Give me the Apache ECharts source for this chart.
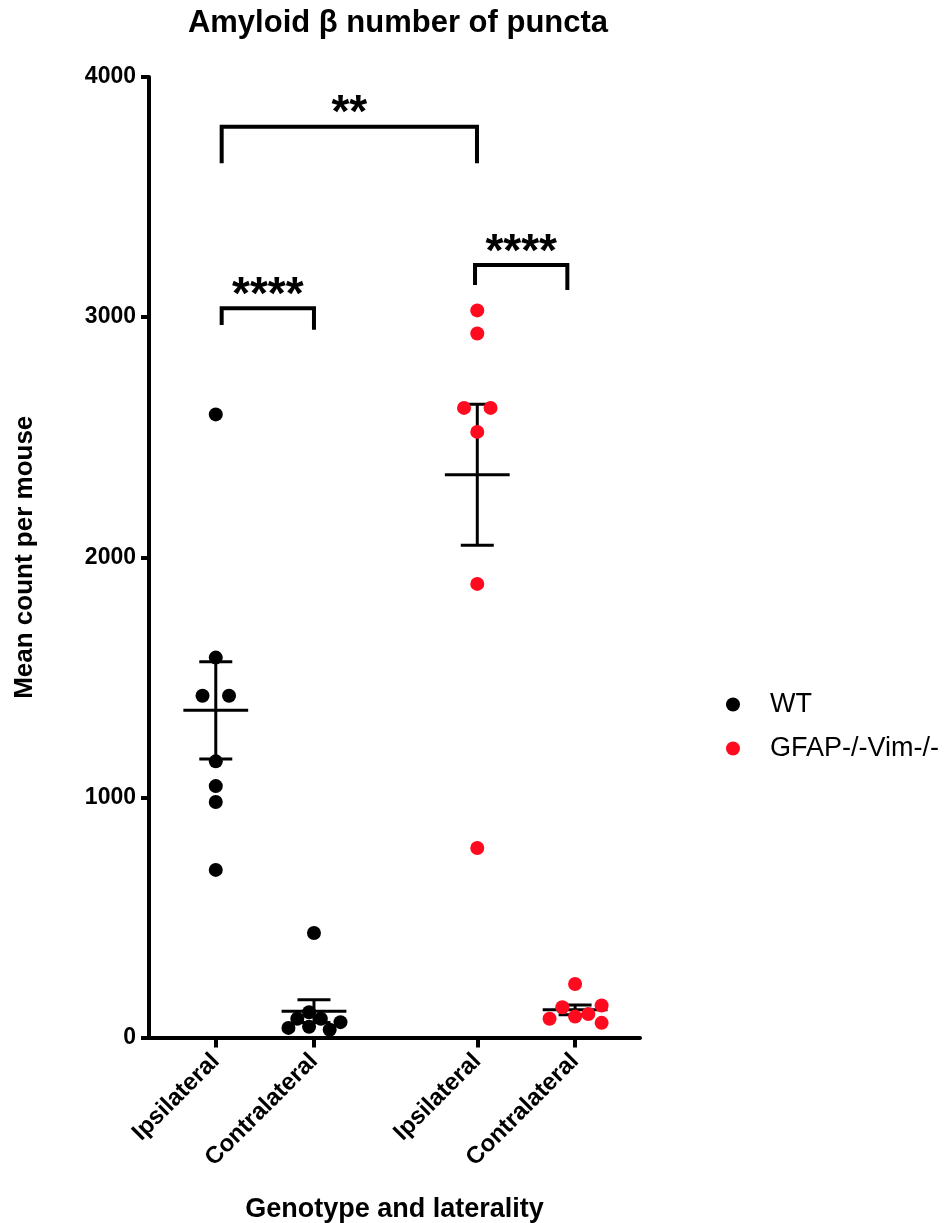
<!DOCTYPE html>
<html>
<head>
<meta charset="utf-8">
<script src="https://cdn.jsdelivr.net/npm/echarts@6/dist/echarts.min.js"></script>
<style>
html,body{margin:0;padding:0;background:#fff;}
#chart{width:947px;height:1223px;}
</style>
</head>
<body>
<div id="chart"></div>
<script>
// ---------- data ----------
const categories = ['Ipsilateral', 'Contralateral', 'Ipsilateral', 'Contralateral'];
const seriesNames = ['WT', 'GFAP-/-Vim-/-'];
const yTicks = [0, 1000, 2000, 3000, 4000];

const wtIpsi = [2595, 1582, 1423, 1423, 1150, 1047, 981, 698];
const wtContra = [435, 105, 78, 78, 45, 40, 64, 32];
const koIpsi = [3028, 2932, 2622, 2622, 2522, 1889, 789];
const koContra = [223, 126, 133, 78, 87, 98, 61];

// horizontal scatter spread of each dot (in group-width units)
const wtIpsiSpread = [0, 0, -0.135, 0.135, 0, 0, 0, 0];
const wtContraSpread = [0, -0.05, -0.17, 0.07, -0.05, -0.26, 0.27, 0.16];
const koIpsiSpread = [0, 0, -0.135, 0.135, 0, 0, 0];
const koContraSpread = [0, -0.13, 0.27, -0.26, 0, 0.135, 0.27];

// significance annotations (bracket ends on the x scale, heights on the y scale)
const sigLabels = ['**', '****', '****'];
const sigX1 = [1.06, 1.06, 3.64];
const sigX2 = [3.66, 2.0, 4.58];
const sigTop = [3793, 3037, 3217];
const sigLegLeft = [3641, 2967, 3134];
const sigLegRight = [3641, 2947, 3113];

// ---------- layout ----------
const groupPos = [1, 2, 3.663, 4.659];
const FONT = '"Liberation Sans", Arial, Helvetica, sans-serif';
const RED = '#ff0a1e';

const groups = [wtIpsi, wtContra, koIpsi, koContra];
const spreads = [wtIpsiSpread, wtContraSpread, koIpsiSpread, koContraSpread];

function mean(a) { return a.reduce((s, v) => s + v, 0) / a.length; }
function sem(a) {
  const m = mean(a);
  const v = a.reduce((s, x) => s + (x - m) * (x - m), 0) / (a.length - 1);
  return Math.sqrt(v) / Math.sqrt(a.length);
}

function pts(gi) {
  return groups[gi].map((v, i) => [groupPos[gi] + spreads[gi][i], v]);
}

const errData = groups.map((g, i) => [groupPos[i], mean(g), sem(g)]);

const chart = echarts.init(document.getElementById('chart'), null, { renderer: 'canvas' });

const option = {
  backgroundColor: '#fff',
  animation: false,
  title: {
    text: 'Amyloid β number of puncta',
    left: 393,
    textAlign: 'center',
    top: 3,
    textStyle: { fontFamily: FONT, fontWeight: 'bold', fontSize: 31, color: '#000' }
  },
  legend: {
    orient: 'vertical',
    left: 721,
    top: 686,
    itemWidth: 14,
    itemHeight: 14,
    itemGap: 17,
    icon: 'circle',
    data: seriesNames,
    textStyle: { fontFamily: FONT, fontSize: 27, color: '#000', padding: [0, 0, 0, 25] }
  },
  grid: { left: 149, right: 307, top: 77, bottom: 185.5, containLabel: false, outerBoundsMode: 'none' },
  xAxis: {
    type: 'value',
    min: 0.32,
    max: 5.32,
    splitLine: { show: false },
    axisLine: { onZero: false, lineStyle: { color: '#000', width: 4 } },
    axisTick: { show: true, customValues: groupPos, length: 10, lineStyle: { color: '#000', width: 4 } },
    axisLabel: {
      customValues: groupPos,
      rotate: 45,
      margin: 20,
      fontFamily: FONT, fontWeight: 'bold', fontSize: 24, color: '#000',
      formatter: function (v) {
        let best = 0;
        groupPos.forEach((p, i) => { if (Math.abs(p - v) < Math.abs(groupPos[best] - v)) best = i; });
        return categories[best];
      }
    },
    name: 'Genotype and laterality',
    nameLocation: 'middle',
    nameGap: 159,
    nameTextStyle: { fontFamily: FONT, fontWeight: 'bold', fontSize: 27, color: '#000' }
  },
  yAxis: {
    type: 'value',
    min: yTicks[0],
    max: yTicks[yTicks.length - 1],
    interval: 1000,
    splitLine: { show: false },
    axisLine: { show: true, onZero: false, lineStyle: { color: '#000', width: 4 } },
    axisTick: { show: true, length: 8, lineStyle: { color: '#000', width: 4 } },
    axisLabel: { margin: 13, fontFamily: FONT, fontWeight: 'bold', fontSize: 23, color: '#000',
                 formatter: function (v) { return String(v); } },
    name: 'Mean count per mouse',
    nameLocation: 'middle',
    nameGap: 111,
    nameRotate: 90,
    nameTextStyle: { fontFamily: FONT, fontWeight: 'bold', fontSize: 26, color: '#000' }
  },
  series: [
    {
      name: 'errorbars',
      type: 'custom',
      z: 2,
      silent: true,
      data: errData,
      renderItem: function (params, api) {
        const x = api.value(0), m = api.value(1), s = api.value(2);
        const c = api.coord([x, m]);
        const top = api.coord([x, m + s]);
        const bot = api.coord([x, m - s]);
        const wMean = api.size([0.33, 0])[0];
        const wCap = api.size([0.168, 0])[0];
        const st = { stroke: '#000', lineWidth: 3 };
        return {
          type: 'group',
          children: [
            { type: 'line', shape: { x1: c[0] - wMean, y1: c[1], x2: c[0] + wMean, y2: c[1] }, style: st },
            { type: 'line', shape: { x1: c[0], y1: top[1], x2: c[0], y2: bot[1] }, style: st },
            { type: 'line', shape: { x1: c[0] - wCap, y1: top[1], x2: c[0] + wCap, y2: top[1] }, style: st },
            { type: 'line', shape: { x1: c[0] - wCap, y1: bot[1], x2: c[0] + wCap, y2: bot[1] }, style: st }
          ]
        };
      }
    },
    {
      name: seriesNames[0],
      type: 'scatter',
      z: 3,
      symbol: 'circle',
      symbolSize: 14,
      itemStyle: { color: '#000', opacity: 1 },
      data: pts(0).concat(pts(1))
    },
    {
      name: seriesNames[1],
      type: 'scatter',
      z: 3,
      symbol: 'circle',
      symbolSize: 14,
      itemStyle: { color: RED, opacity: 1 },
      data: pts(2).concat(pts(3))
    },
    {
      name: 'significance',
      type: 'custom',
      z: 4,
      silent: true,
      data: sigLabels.map((s, i) => [sigX1[i], sigTop[i]]),
      renderItem: function (params, api) {
        const i = params.dataIndex;
        const a = api.coord([sigX1[i], sigTop[i]]);
        const b = api.coord([sigX2[i], sigTop[i]]);
        const yl = api.coord([sigX1[i], sigLegLeft[i]])[1];
        const yr = api.coord([sigX2[i], sigLegRight[i]])[1];
        return {
          type: 'group',
          children: [
            { type: 'polyline', shape: { points: [[a[0], yl], [a[0], a[1]], [b[0], b[1]], [b[0], yr]] },
              style: { stroke: '#000', lineWidth: 4, fill: null, lineJoin: 'miter' } },
            { type: 'text', x: (a[0] + b[0]) / 2, y: a[1] - 12,
              style: { text: sigLabels[i], fontFamily: FONT, fontWeight: 'bold', fontSize: 46, fill: '#000',
                       align: 'center', verticalAlign: 'middle' } }
          ]
        };
      }
    }
  ]
};
chart.setOption(option);
</script>
</body>
</html>
